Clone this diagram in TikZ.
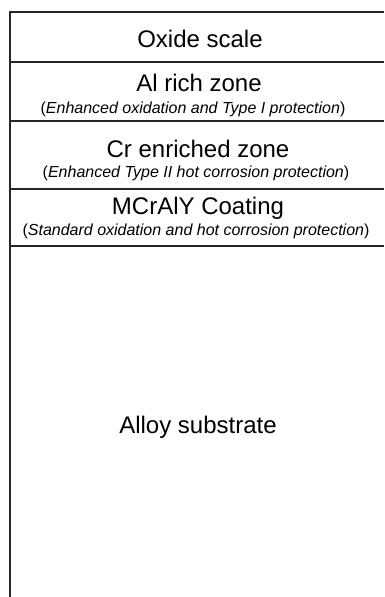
\documentclass[tikz,border=0pt]{standalone}
\usepackage{fontspec}
\setmainfont{Liberation Sans}
\begin{document}
\begin{tikzpicture}[x=1pt,y=-1pt,
  layerline/.style={line width=2pt, draw=black!85},
  title/.style={font=\fontsize{24}{28}\selectfont, inner sep=0, anchor=base},
  sub/.style={font=\fontsize{16}{19}\selectfont, inner sep=0, anchor=base}]
\useasboundingbox (0,0) rectangle (384,597);
\coordinate (tl) at (10,12);
\coordinate (tr) at (384,12);
\coordinate (bl) at (10,597);
\coordinate (l1) at (10,62);  \coordinate (r1) at (384,62);
\coordinate (l2) at (10,121); \coordinate (r2) at (384,121);
\coordinate (l3) at (10,189); \coordinate (r3) at (384,189);
\coordinate (l4) at (10,246); \coordinate (r4) at (384,246);
\draw[layerline] (tr) -- (tl) -- (bl);
\draw[layerline] (l1) -- (r1);
\draw[layerline] (l2) -- (r2);
\draw[layerline] (l3) -- (r3);
\draw[layerline] (l4) -- (r4);
\node[title] (oxide) at (200,47) {Oxide scale};
\node[title] (al) at (199,91) {Al rich zone};
\node[sub] (alsub) at (193,113) {(\textit{Enhanced oxidation and Type I protection})};
\node[title] (cr) at (198,157) {Cr enriched zone};
\node[sub] (crsub) at (196,177) {(\textit{Enhanced Type II hot corrosion protection})};
\node[title] (mcraly) at (198,214) {MCrAlY Coating};
\node[sub] (mcralysub) at (196,235) {(\textit{Standard oxidation and hot corrosion protection})};
\node[title] (alloy) at (198,433) {Alloy substrate};
\end{tikzpicture}
\end{document}
